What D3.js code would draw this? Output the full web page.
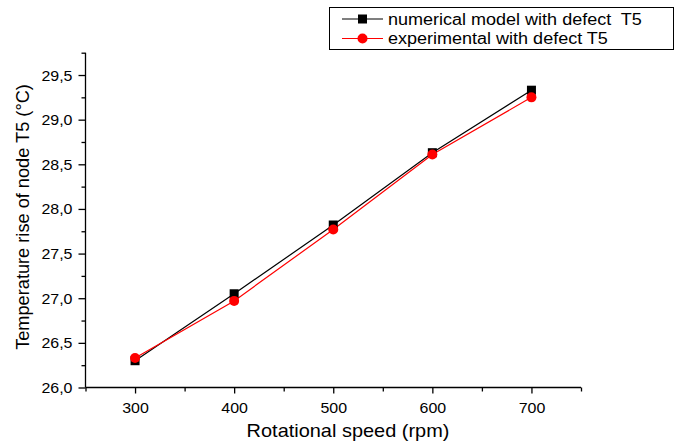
<!DOCTYPE html>
<html>
<head>
<meta charset="utf-8">
<script src="https://cdn.jsdelivr.net/npm/d3@7"></script>
<style>
  html, body { margin: 0; padding: 0; background: #fff; }
  svg { display: block; font-family: "Liberation Sans", Arial, sans-serif; }
</style>
</head>
<body>
<svg id="chart" width="689" height="445"></svg>
<script>
// ---- data ----
const speeds = [300, 400, 500, 600, 700];
const numerical = [26.30, 27.05, 27.82, 28.63, 29.33];
const experimental = [26.33, 26.97, 27.77, 28.61, 29.25];
const seriesNames = ["numerical model with defect  T5", "experimental with defect T5"];
const xTicks = [300, 400, 500, 600, 700];
const xMinorTicks = [250, 350, 450, 550, 650, 750];
const yTicks = [26.0, 26.5, 27.0, 27.5, 28.0, 28.5, 29.0, 29.5];
const yMinorTicks = [26.25, 26.75, 27.25, 27.75, 28.25, 28.75, 29.25, 29.75];
const xTitle = "Rotational speed (rpm)";
const yTitle = "Temperature rise of node T5 (°C)";

// ---- layout ----
const SX = 1.14; // horizontal text stretch
const svg = d3.select("#chart");
const x = d3.scaleLinear().domain([250, 750]).range([85.5, 581]);
const y = d3.scaleLinear().domain([26.0, 29.75]).range([387.5, 52.7]);

function stretch(sel) {
  sel.each(function () {
    const t = d3.select(this);
    const tx = +t.attr("x") || 0, ty = +t.attr("y") || 0;
    t.attr("transform", `translate(${tx},${ty}) scale(${SX},1)`).attr("x", 0).attr("y", 0);
  });
}
const fmt = v => d3.format(".1f")(v).replace(".", ",");

// x axis
const gx = svg.append("g").attr("transform", `translate(0,${y(26.0)})`);
gx.call(d3.axisBottom(x).tickValues(xTicks).tickSize(6).tickPadding(5).tickFormat(d3.format("d")));
gx.append("g").call(d3.axisBottom(x).tickValues(xMinorTicks).tickSize(4).tickFormat(""))
  .select(".domain").remove();
gx.selectAll("text").attr("font-size", 14).attr("fill", "#000").attr("font-family", null);
gx.selectAll(".tick text").each(function () {
  const t = d3.select(this);
  t.attr("x", 0).attr("y", 25).attr("dy", null);
});
gx.selectAll(".tick").each(function () { stretch(d3.select(this).select("text")); });
gx.select(".domain").attr("d", `M${x(250)},0H${x(750)}`);

// y axis
const gy = svg.append("g").attr("transform", `translate(${x(250)},0)`);
gy.call(d3.axisLeft(y).tickValues(yTicks).tickSize(7).tickPadding(5).tickFormat(fmt));
gy.append("g").call(d3.axisLeft(y).tickValues(yMinorTicks).tickSize(4).tickFormat(""))
  .select(".domain").remove();
gy.select(".domain").attr("d", `M0,${y(26.0)}V${y(29.75)}`);
gy.selectAll(".tick text").attr("font-size", 14).attr("fill", "#000").attr("font-family", null)
  .attr("dy", null).attr("x", -13).each(function () {
    d3.select(this).attr("y", 5);
    stretch(d3.select(this));
  });
svg.selectAll(".domain, .tick line").attr("stroke", "#000").attr("stroke-width", 1.3);

// titles
svg.append("text").attr("x", 348).attr("y", 437).attr("text-anchor", "middle")
  .attr("font-size", 17.5).text(xTitle).call(stretch);
svg.append("text").attr("transform", "translate(29,217) rotate(-90)")
  .attr("text-anchor", "middle").attr("font-size", 18.2).text(yTitle);

// lines
const line = d3.line().x(d => x(d[0])).y(d => y(d[1]));
const numData = speeds.map((s, i) => [s, numerical[i]]);
const expData = speeds.map((s, i) => [s, experimental[i]]);
svg.append("path").datum(numData).attr("d", line).attr("fill", "none").attr("stroke", "#000").attr("stroke-width", 1.2);
svg.append("path").datum(expData).attr("d", line).attr("fill", "none").attr("stroke", "#ff0000").attr("stroke-width", 1.2);
svg.selectAll(".sq").data(numData).enter().append("rect")
  .attr("x", d => x(d[0]) - 4.5).attr("y", d => y(d[1]) - 4.5)
  .attr("width", 9).attr("height", 9).attr("fill", "#000");
svg.selectAll(".ci").data(expData).enter().append("circle")
  .attr("cx", d => x(d[0])).attr("cy", d => y(d[1])).attr("r", 5).attr("fill", "#ff0000");

// legend
const lg = svg.append("g");
lg.append("rect").attr("x", 329.5).attr("y", 7.5).attr("width", 344).attr("height", 42)
  .attr("fill", "#fff").attr("stroke", "#000").attr("stroke-width", 1);
const colors = ["#000", "#ff0000"];
seriesNames.forEach((name, i) => {
  const yy = 19 + i * 19.5;
  lg.append("line").attr("x1", 342).attr("x2", 383).attr("y1", yy).attr("y2", yy)
    .attr("stroke", colors[i]).attr("stroke-width", 1.2);
  if (i === 0) {
    lg.append("rect").attr("x", 358).attr("y", yy - 4.5).attr("width", 9).attr("height", 9).attr("fill", "#000");
  } else {
    lg.append("circle").attr("cx", 362.5).attr("cy", yy).attr("r", 5).attr("fill", "#ff0000");
  }
  lg.append("text").attr("x", 388).attr("y", yy + 5.5).attr("font-size", 15.8)
    .style("white-space", "pre").text(name).call(stretch);
});
</script>
</body>
</html>
